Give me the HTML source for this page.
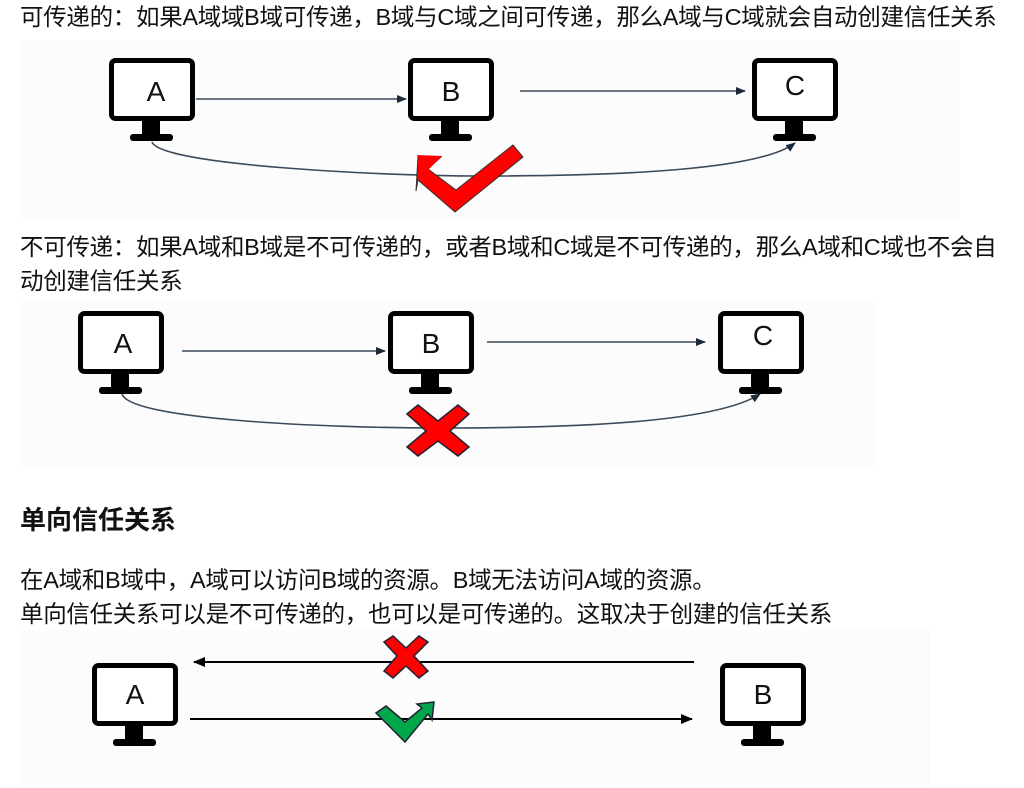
<!DOCTYPE html>
<html><head><meta charset="utf-8"><style>
body{margin:0;width:1024px;height:788px;background:#fff;position:relative;overflow:hidden;font-family:"Liberation Sans","Noto Sans CJK SC",sans-serif;color:#111}
.t{position:absolute;left:20px;font-size:23.5px;line-height:28px;white-space:nowrap;letter-spacing:-0.3px}
svg{position:absolute;left:0;top:0}
</style></head><body>
<svg width="1024" height="788" viewBox="0 0 1024 788">
<defs>
<g id="mon">
<rect x="2.5" y="2.5" width="81" height="58" rx="4" fill="#fff" stroke="#000" stroke-width="5"/>
<rect x="33" y="62" width="18" height="16" fill="#000"/>
<rect x="21" y="76" width="43" height="7" rx="3" fill="#000"/>
</g>
<marker id="ar" markerWidth="10" markerHeight="8" refX="9" refY="4" orient="auto" markerUnits="userSpaceOnUse"><path d="M0,0L10,4L0,8z" fill="#1a2a3a"/></marker>
<marker id="ar2" markerWidth="12" markerHeight="10" refX="11" refY="5" orient="auto" markerUnits="userSpaceOnUse"><path d="M0,0L12,5L0,10z" fill="#000"/></marker>
</defs>
<rect x="20" y="40" width="940" height="178" fill="#fcfcfc"/>
<rect x="20" y="300" width="855" height="168" fill="#fcfcfc"/>
<rect x="20" y="630" width="910" height="156" fill="#fcfcfc"/>
<g font-family="Liberation Sans,sans-serif" font-size="28" text-anchor="middle" fill="#111">
<use href="#mon" x="109" y="58"/><text x="156" y="101">A</text>
<use href="#mon" x="408" y="58"/><text x="451" y="101">B</text>
<use href="#mon" x="752" y="58"/><text x="795" y="95">C</text>
<use href="#mon" x="78" y="311"/><text x="123" y="353">A</text>
<use href="#mon" x="388" y="311"/><text x="431" y="353">B</text>
<use href="#mon" x="718" y="311"/><text x="763" y="345">C</text>
<use href="#mon" x="92" y="663"/><text x="135" y="704">A</text>
<use href="#mon" x="720" y="663"/><text x="763" y="704">B</text>
</g>
<g fill="none" stroke="#3a4a5a" stroke-width="1.6">
<line x1="196" y1="99" x2="406" y2="99" marker-end="url(#ar)"/>
<line x1="520" y1="91" x2="745" y2="91" marker-end="url(#ar)"/>
<path d="M152,142 C160,165 380,176 480,176 C620,176 760,170 795,143" marker-end="url(#ar)"/>
<line x1="182" y1="351" x2="385" y2="351" marker-end="url(#ar)"/>
<line x1="487" y1="342" x2="705" y2="342" marker-end="url(#ar)"/>
<path d="M122,394 C130,420 330,428 440,428 C600,428 720,420 760,394" marker-end="url(#ar)"/>
</g>
<g stroke="#000" stroke-width="2" fill="none">
<line x1="694" y1="662" x2="194" y2="662" marker-end="url(#ar2)"/>
<line x1="190" y1="719" x2="692" y2="719" marker-end="url(#ar2)"/>
</g>
<path d="M418,156 L441,157 L428,169 L456,190 L513,145 L523,157 L455,212 L418,180 L416,191 Z" fill="#f00" stroke="#333" stroke-width="1"/>
<path d="M417,155 L442,156 L424,174 Z" fill="#f00"/>
<path d="M407,414 L418,405 L438,421 L458,405 L469,414 L450,431 L469,447 L458,456 L438,441 L418,456 L407,447 L426,431 Z" fill="#f00" stroke="#223" stroke-width="1.5"/>
<path d="M384,642 L393,636 L406,648 L419,636 L428,642 L414,656 L428,671 L419,678 L406,666 L393,678 L384,671 L397,656 Z" fill="#f00" stroke="#223" stroke-width="1.5"/>
<path d="M376,713 L386,706 L405,722 L422,708 L417,704 L434,702 L432,720 L428,714 L405,742 Z" fill="#00a64a" stroke="#223" stroke-width="1.5"/>
</svg>
<div class="t" style="top:3px">可传递的：如果A域域B域可传递，B域与C域之间可传递，那么A域与C域就会自动创建信任关系</div>
<div class="t" style="top:233px">不可传递：如果A域和B域是不可传递的，或者B域和C域是不可传递的，那么A域和C域也不会自</div>
<div class="t" style="top:267px">动创建信任关系</div>
<div class="t" style="top:506px;font-size:26px;font-weight:bold;letter-spacing:0">单向信任关系</div>
<div class="t" style="top:566px">在A域和B域中，A域可以访问B域的资源。B域无法访问A域的资源。</div>
<div class="t" style="top:600px">单向信任关系可以是不可传递的，也可以是可传递的。这取决于创建的信任关系</div>
</body></html>
